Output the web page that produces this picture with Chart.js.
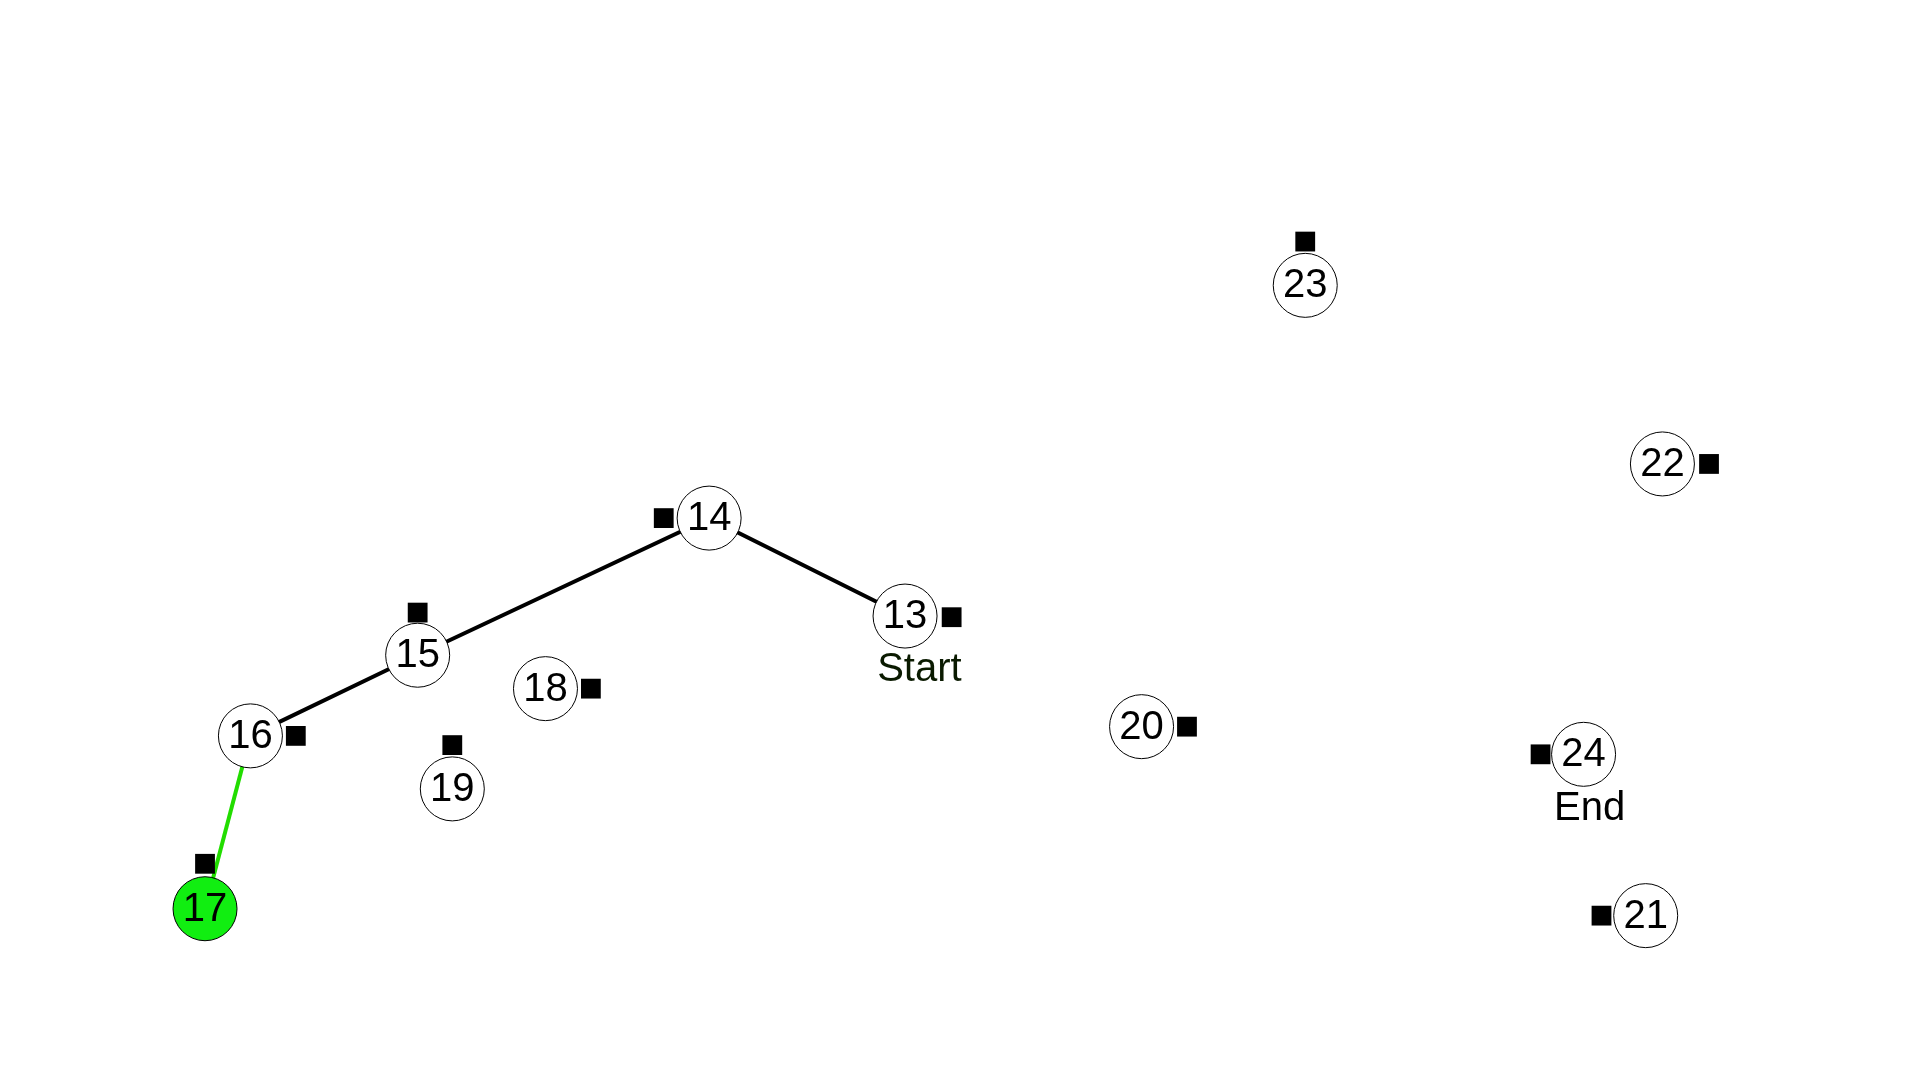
<!DOCTYPE html>
<html><head><meta charset="utf-8">
<script src="https://cdn.jsdelivr.net/npm/chart.js@4/dist/chart.umd.min.js"></script>
<style>html,body{margin:0;background:#fff}#wrap{width:1920px;height:1080px}</style>
</head><body><div id="wrap"><canvas id="c"></canvas></div>
<script>
var nodeIds = ['13','14','15','16','17','18','19','20','21','22','23','24'];
var nodeX   = [730, 566, 322, 182, 144, 429, 351, 928, 1350, 1364, 1065, 1298];
var nodeY   = [506, 421, 540, 610, 760, 569, 656, 602, 766, 374, 219, 626];
var markX   = [769, 528, 322, 220, 144, 467, 351, 966, 1313, 1403, 1065, 1262];
var markY   = [507, 421, 503, 610, 721, 569, 618, 602, 766, 374, 181, 626];
var pathIds = ['13','14','15','16'];
var activeIds = ['16','17'];
var textLabels = ['Start','End'];
var textX = [742, 1303];
var textY = [553, 673];

function pt(id) { var i = nodeIds.indexOf(id); return { x: nodeX[i], y: nodeY[i] }; }
var nodes = nodeIds.map(function(id, i){ return { x: nodeX[i], y: nodeY[i], id: id }; });
var marks = markX.map(function(x, i){ return { x: x, y: markY[i] }; });

var labelPlugin = {
  id: 'labels',
  afterDatasetsDraw: function(chart) {
    var ctx = chart.ctx, xs = chart.scales.x, ys = chart.scales.y;
    ctx.save();
    ctx.textAlign = 'center'; ctx.textBaseline = 'middle';
    ctx.font = '40px "Liberation Sans", Arial, sans-serif';
    ctx.fillStyle = '#000';
    nodes.forEach(function(n) { ctx.fillText(n.id, xs.getPixelForValue(n.x), ys.getPixelForValue(n.y) + 1); });
    textLabels.forEach(function(t, i) {
      ctx.fillStyle = t === 'Start' ? '#0a1a00' : '#000';
      ctx.fillText(t, xs.getPixelForValue(textX[i]), ys.getPixelForValue(textY[i]));
    });
    ctx.restore();
  }
};

new Chart(document.getElementById('c'), {
  type: 'scatter',
  data: { datasets: [
    { data: pathIds.map(pt), showLine: true, borderColor: '#000', borderWidth: 4, pointRadius: 0, order: 4 },
    { data: activeIds.map(pt), showLine: true, borderColor: '#22dd00', borderWidth: 4, pointRadius: 0, order: 3 },
    { data: marks, pointStyle: 'rect', pointRadius: 14, backgroundColor: '#000', borderWidth: 0, order: 2 },
    { data: nodes, pointStyle: 'circle', pointRadius: 32, borderColor: '#000', borderWidth: 1,
      backgroundColor: nodes.map(function(n){ return n.id === '17' ? '#11ee11' : '#fff'; }), order: 1 }
  ]},
  options: {
    responsive: true, maintainAspectRatio: false, animation: false,
    layout: { padding: 0 },
    plugins: { legend: { display: false }, tooltip: { enabled: false } },
    scales: {
      x: { display: false, min: 0, max: 1552 },
      y: { display: false, min: 0, max: 880, reverse: true }
    }
  },
  plugins: [labelPlugin]
});
</script></body></html>
